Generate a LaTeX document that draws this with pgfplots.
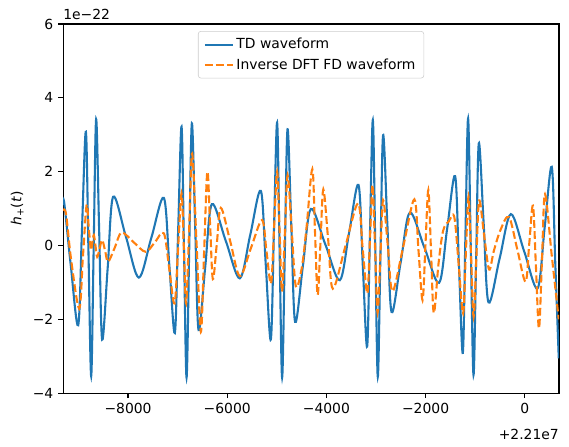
\documentclass[border=0pt]{standalone}
\usepackage{fontspec}
\setmainfont{DejaVu Sans}
\usepackage{pgfplots}
\pgfplotsset{compat=1.18}
\definecolor{mplblue}{HTML}{1F77B4}
\definecolor{mplorange}{HTML}{FF7F0E}
\begin{document}
\begin{tikzpicture}
\begin{axis}[
  scale only axis, width=357pt, height=265.7pt,
  xmin=-9310, xmax=690, ymin=-4, ymax=6,
  xtick={-8000,-6000,-4000,-2000,0},
  xticklabels={−8000,−6000,−4000,−2000,0},
  ytick={-4,-2,0,2,4,6},
  yticklabels={−4,−2,0,2,4,6},
  tick align=outside, tick pos=left, major tick length=3.5pt,
  every tick/.style={black, line width=0.8pt},
  axis line style={line width=0.8pt},
  ylabel={\textit{h}\textsubscript{+}(\textit{t})},
  ylabel style={at={(axis description cs:-0.0924,0.5)}, anchor=center},
  legend style={at={(0.5,0.981)}, anchor=north, draw=black!20, rounded corners=2pt,
    inner xsep=4pt, inner ysep=3pt, row sep=1.5pt, cells={anchor=west}},
  legend image code/.code={\draw[#1] (0pt,0pt) -- (20pt,0pt);},
]
\addplot[mplblue, line width=1.5pt, smooth, tension=0.55] table {
-9310 1.10
-9285 1.14
-9156 -0.52
-9005 -2.16
-8928 0.46
-8850 3.08
-8797 -0.23
-8743 -3.54
-8693 -0.06
-8643 3.42
-8583 0.44
-8522 -2.55
-8411 -0.62
-8300 1.32
-8041 0.23
-7782 -0.87
-7530 0.21
-7278 1.29
-7167 -0.54
-7056 -2.37
-6989 0.43
-6921 3.22
-6871 -0.18
-6820 -3.58
-6767 -0.14
-6713 3.31
-6646 0.51
-6578 -2.29
-6444 -0.59
-6310 1.12
-6028 0.12
-5746 -0.89
-5534 0.30
-5322 1.48
-5222 -0.54
-5121 -2.55
-5058 0.39
-4994 3.33
-4944 -0.13
-4893 -3.58
-4839 -0.22
-4784 3.15
-4708 0.54
-4631 -2.07
-4473 -0.54
-4314 0.99
-4022 0.03
-3730 -0.94
-3542 0.35
-3353 1.64
-3266 -0.55
-3179 -2.74
-3122 0.33
-3064 3.40
-3014 -0.08
-2964 -3.56
-2911 -0.29
-2857 2.99
-2772 0.60
-2687 -1.80
-2503 -0.46
-2318 0.89
-2023 -0.06
-1728 -1.01
-1567 0.44
-1405 1.88
-1328 -0.52
-1250 -2.91
-1197 0.27
-1143 3.44
-1089 -0.04
-1034 -3.51
-981 -0.37
-927 2.77
-830 0.62
-732 -1.54
-507 -0.35
-282 0.85
-12 -0.16
258 -1.16
401 0.49
544 2.13
614 -0.45
685 -3.06
};
\addlegendentry{TD waveform}
\addplot[mplorange, line width=1.5pt, dash pattern=on 5.55pt off 2.4pt, smooth, tension=0.55] table {
-9310 0.95
-9250 0.85
-9148 -0.38
-8985 -1.71
-8910 -0.31
-8836 1.09
-8792 0.48
-8749 -0.12
-8719 0.08
-8689 0.28
-8655 -0.02
-8622 -0.31
-8572 -0.08
-8522 0.15
-8461 -0.15
-8401 -0.44
-8265 -0.05
-8130 0.35
-7888 0.09
-7647 -0.17
-7462 0.08
-7278 0.33
-7170 -0.62
-7062 -1.57
-6991 -0.08
-6921 1.41
-6874 -0.08
-6828 -1.57
-6767 0.46
-6707 2.49
-6619 0.08
-6532 -2.34
-6466 -0.17
-6401 2.00
-6345 0.55
-6290 -0.91
-6209 0.06
-6129 1.02
-5937 0.10
-5746 -0.83
-5522 -0.07
-5298 0.69
-5207 -0.17
-5116 -1.03
-5055 0.49
-4994 2.00
-4944 0.38
-4895 -1.25
-4838 0.33
-4782 1.90
-4699 0.40
-4617 -1.10
-4496 -0.60
-4400 0.50
-4284 2.07
-4230 0.37
-4177 -1.34
-4119 0.09
-4062 1.52
-3966 0.18
-3871 -1.17
-3617 -0.02
-3363 1.14
-3269 -0.08
-3175 -1.30
-3122 0.17
-3070 1.64
-3019 -0.09
-2968 -1.82
-2912 -0.30
-2857 1.23
-2762 0.00
-2667 -1.24
-2446 0.00
-2226 1.25
-2144 -0.12
-2062 -1.48
-2003 0.01
-1945 1.50
-1890 -0.17
-1835 -1.83
-1740 -0.50
-1647 0.40
-1530 0.66
-1421 0.77
-1332 -0.53
-1244 -1.84
-1190 -0.26
-1135 1.32
-1083 -0.30
-1032 -1.93
-977 -0.35
-921 1.22
-820 0.28
-720 -0.65
-625 -0.15
-490 0.42
-319 0.77
-152 -0.10
16 -0.98
90 0.05
165 1.08
225 -0.58
286 -2.25
346 -0.43
407 1.39
546 -0.30
685 -2.00
};
\addlegendentry{Inverse DFT FD waveform}
\end{axis}
\node[anchor=south west, inner sep=0pt] at ([yshift=3pt]current axis.north west) {1e−22};
\node[anchor=north east, inner sep=0pt] at ([yshift=-26pt]current axis.south east) {+2.21e7};
\path ([xshift=-45.4pt,yshift=-38.2pt]current axis.south west) rectangle ([xshift=7.2pt,yshift=17.3pt]current axis.north east);
\end{tikzpicture}
\end{document}
